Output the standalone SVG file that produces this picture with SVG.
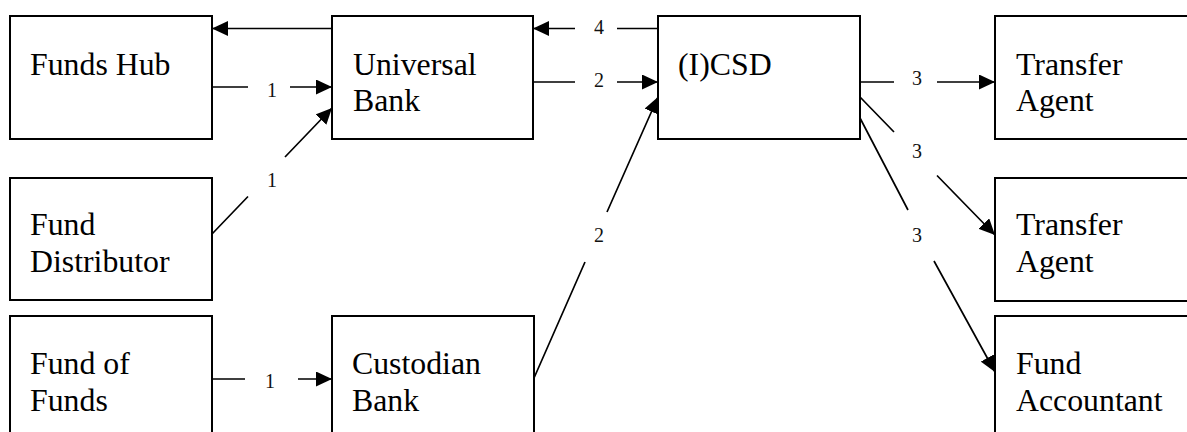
<svg xmlns="http://www.w3.org/2000/svg" width="1187" height="432" viewBox="0 0 1187 432">
<style>
.box{fill:#fff;stroke:#000;stroke-width:2}
.t{font-family:"Liberation Serif","Times New Roman",serif;font-size:31.8px;fill:#000}
.c{fill:none;stroke:#000;stroke-width:1.7}
.l{font-family:"Liberation Serif","Times New Roman",serif;font-size:20px;fill:#111;text-anchor:middle}
</style>
<defs>
<marker id="ah" markerUnits="userSpaceOnUse" markerWidth="17" markerHeight="15" refX="16" refY="7.5" orient="auto">
<path d="M0,0 L16,7.5 L0,15 z" fill="#000"/>
</marker>
</defs>
<rect width="1187" height="432" fill="#fff"/>
<g id="funds-hub"><rect class="box" x="10" y="16" width="202" height="123"/><text class="t" x="30" y="75">Funds Hub</text></g>
<g id="universal-bank"><rect class="box" x="332" y="16" width="201" height="123"/><text class="t" x="353" y="75">Universal</text><text class="t" x="353" y="111">Bank</text></g>
<g id="icsd"><rect class="box" x="658" y="16" width="202" height="123"/><text class="t" x="678" y="75">(I)CSD</text></g>
<g id="transfer-agent-1"><rect class="box" x="995" y="16" width="210" height="123"/><text class="t" x="1016" y="75">Transfer</text><text class="t" x="1016" y="111">Agent</text></g>
<g id="fund-distributor"><rect class="box" x="10" y="178" width="202" height="122"/><text class="t" x="30" y="235">Fund</text><text class="t" x="30" y="272">Distributor</text></g>
<g id="transfer-agent-2"><rect class="box" x="995" y="178" width="210" height="123"/><text class="t" x="1016" y="235">Transfer</text><text class="t" x="1016" y="272">Agent</text></g>
<g id="fund-of-funds"><rect class="box" x="10" y="316" width="202" height="130"/><text class="t" x="30" y="374">Fund of</text><text class="t" x="30" y="411">Funds</text></g>
<g id="custodian-bank"><rect class="box" x="332" y="316" width="202" height="130"/><text class="t" x="352" y="374">Custodian</text><text class="t" x="352" y="411">Bank</text></g>
<g id="fund-accountant"><rect class="box" x="995" y="316" width="210" height="130"/><text class="t" x="1016" y="374">Fund</text><text class="t" x="1016" y="411">Accountant</text></g>
<g id="connectors">
<path class="c" d="M332,28.5 L212,28.5" marker-end="url(#ah)"/>
<path class="c" d="M212,87 L248,87 M290,87 L332,87" marker-end="url(#ah)"/>
<text class="l" x="272" y="97">1</text>
<path class="c" d="M212,234 L248,196.5 M285,157 L332,108" marker-end="url(#ah)"/>
<text class="l" x="272" y="187">1</text>
<path class="c" d="M658,28.5 L617,28.5 M575,28.5 L533,28.5" marker-end="url(#ah)"/>
<text class="l" x="599" y="34">4</text>
<path class="c" d="M533,82 L575,82 M617,82 L658,82" marker-end="url(#ah)"/>
<text class="l" x="599" y="87">2</text>
<path class="c" d="M534,378 L585,262 M607,212 L658,97" marker-end="url(#ah)"/>
<text class="l" x="599" y="242">2</text>
<path class="c" d="M860,82 L894,82 M937,82 L995,82" marker-end="url(#ah)"/>
<text class="l" x="917" y="85">3</text>
<path class="c" d="M860,97 L894,132 M937,175.5 L995,235" marker-end="url(#ah)"/>
<text class="l" x="917" y="158">3</text>
<path class="c" d="M860,118 L908,210 M934,261 L995,372" marker-end="url(#ah)"/>
<text class="l" x="917" y="242">3</text>
<path class="c" d="M212,379 L245,379 M298,379 L332,379" marker-end="url(#ah)"/>
<text class="l" x="270" y="388">1</text>
</g>
</svg>
